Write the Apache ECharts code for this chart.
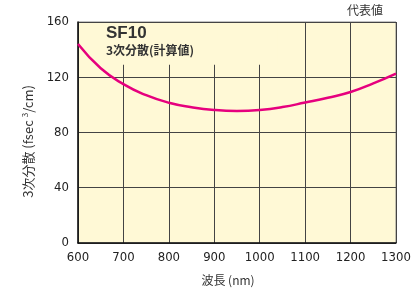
<!DOCTYPE html>
<html>
<head>
<meta charset="utf-8">
<script src="https://cdn.jsdelivr.net/npm/echarts@6/dist/echarts.min.js"></script>
<style>
  html, body { margin: 0; padding: 0; background: #fff; }
  #chart { width: 417px; height: 291px; }
</style>
</head>
<body>
<div id="chart"></div>
<script>
// wavelength (nm) and 3rd order dispersion of SF10 (fsec^3/cm)
const wavelength = [600, 650, 700, 750, 800, 850, 900, 950, 1000, 1050, 1100, 1150, 1200, 1250, 1300];
const dispersion = [144, 126.5, 115, 107, 101.5, 98.3, 96.3, 95.6, 96.3, 98.4, 101.7, 105.2, 109.3, 115.6, 122.7];
const xTicks = [600, 700, 800, 900, 1000, 1100, 1200, 1300];
const yTicks = [0, 40, 80, 120, 160];

const numFont = "'Liberation Sans Narrow', 'DejaVu Sans Condensed', 'Liberation Sans', sans-serif";
const jpFont = "'Noto Sans CJK JP', 'Noto Sans', sans-serif";
const plotBg = '#FFF9D6';

const chart = echarts.init(document.getElementById('chart'));

const option = {
  animation: false,
  grid: {
    left: 78, right: 21, top: 22, bottom: 46,
    show: true,
    backgroundColor: plotBg,
    borderColor: '#888',
    borderWidth: 1
  },
  xAxis: {
    type: 'value',
    min: xTicks[0],
    max: xTicks[xTicks.length - 1],
    interval: 100,
    name: '波長 (nm)',
    nameLocation: 'middle',
    nameGap: 31,
    // shifted a little left of the plot centre, as in the original
    nameTextStyle: { fontFamily: jpFont, fontSize: 12, color: '#333', padding: [0, 18, 0, 0] },
    axisLine: { lineStyle: { color: '#111', width: 1.5 } },
    axisTick: { show: false },
    axisLabel: { fontFamily: numFont, fontSize: 13, color: '#222', margin: 8, formatter: (v) => String(v) },
    splitLine: { show: true, lineStyle: { color: '#444', width: 1 } }
  },
  yAxis: {
    type: 'value',
    min: yTicks[0],
    max: yTicks[yTicks.length - 1],
    interval: 40,
    name: '3次分散 (fsec {sup|3}/cm)',
    nameLocation: 'middle',
    nameGap: 42,
    nameTextStyle: {
      fontFamily: jpFont, fontSize: 13, color: '#333',
      padding: [0, 18, 0, 0],
      rich: {
        sup: { fontFamily: jpFont, fontSize: 8, color: '#333', padding: [0, 0, 7, 0] }
      }
    },
    axisLine: { show: true, lineStyle: { color: '#111', width: 1.5 } },
    axisTick: { show: false },
    axisLabel: { fontFamily: numFont, fontSize: 13, color: '#222', margin: 9 },
    splitLine: { show: true, lineStyle: { color: '#444', width: 1 } }
  },
  series: [{
    type: 'line',
    data: wavelength.map((w, i) => [w, dispersion[i]]),
    smooth: true,
    showSymbol: false,
    lineStyle: { color: '#E6007E', width: 2.5 },
    z: 3
  }]
};
chart.setOption(option);

// label box in the top-left of the plot hides the grid lines behind the title
const p0 = chart.convertToPixel({ gridIndex: 0 }, [600, 160]);
const p1 = chart.convertToPixel({ gridIndex: 0 }, [1040, 129]);
chart.setOption({
  graphic: [
    {
      type: 'rect', z: 1, silent: true,
      shape: { x: p0[0] + 1, y: p0[1] + 1, width: p1[0] - p0[0] - 1, height: p1[1] - p0[1] - 1 },
      style: { fill: plotBg }
    },
    {
      type: 'text', z: 4, left: 106, top: 25,
      style: { text: 'SF10', font: "bold 17px 'Liberation Sans', sans-serif", fill: '#333' }
    },
    {
      type: 'text', z: 4, left: 106, top: 44,
      style: { text: '3次分散(計算値)', font: "bold 12px 'Noto Sans CJK JP', sans-serif", fill: '#333' }
    },
    {
      type: 'text', z: 4, left: 347, top: 4,
      style: { text: '代表値', font: "12px 'Noto Sans CJK JP', sans-serif", fill: '#333' }
    }
  ]
});
</script>
</body>
</html>
